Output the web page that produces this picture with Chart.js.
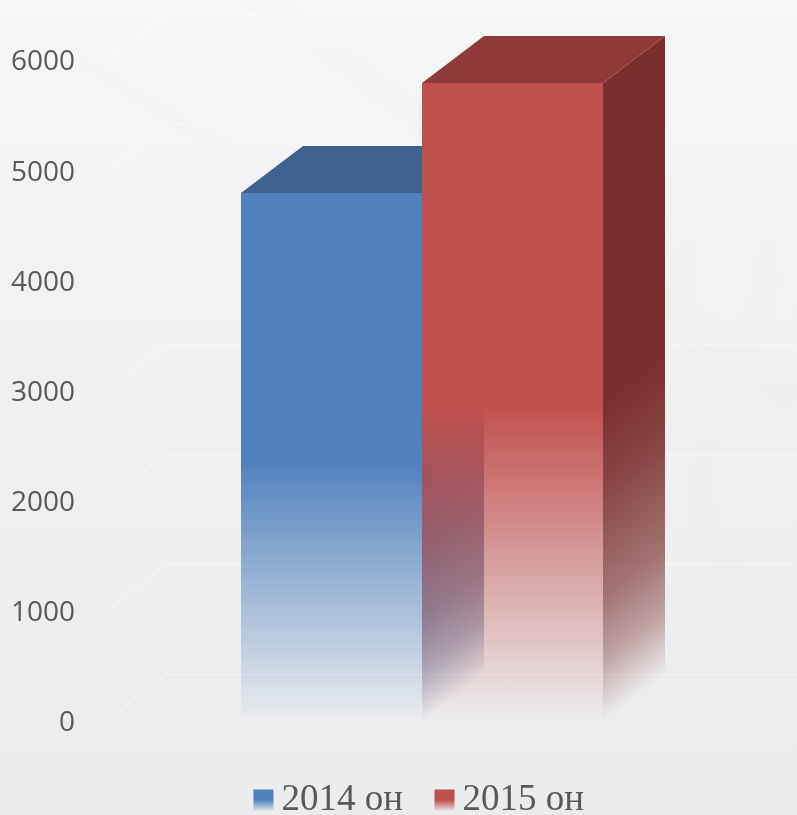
<!DOCTYPE html>
<html>
<head>
<meta charset="utf-8">
<style>
  html, body { margin: 0; padding: 0; background: #f0f1f2; }
  #wrap { width: 797px; height: 815px; background: linear-gradient(#f7f7f8 0%, #f3f3f5 25%, #eff0f1 55%, #ebecee 100%); }
  canvas { display: block; }
</style>
</head>
<body>
<div id="wrap"><canvas id="myChart" width="797" height="815"></canvas></div>
<script src="https://cdn.jsdelivr.net/npm/chart.js@4"></script>
<script>
const categories = [''];
const seriesNames = ['2014 он', '2015 он'];
const values2014 = [4800];
const values2015 = [5800];
const tickMax = 6000;
const tickStep = 1000;

// value where the solid colour starts to fade out, per series
const fadeFrom = [2370, 2860];
const frontColors = ['79,129,189', '192,80,77'];
const sideColors = ['58,95,141', '122,47,45'];
const topColors = ['rgb(62,99,144)', 'rgb(143,58,56)'];
const sideStops = [[0, 1], [0.27, 0.88], [0.6, 0.65], [0.8, 0.4], [1, 0]];

const depthX = 62;
const depthY = 47;
const legendShift = 44;

function frontGradient(chart, i) {
  const y = chart.scales.y;
  const g = chart.ctx.createLinearGradient(0, y.getPixelForValue(fadeFrom[i]), 0, y.getPixelForValue(0));
  g.addColorStop(0, 'rgba(' + frontColors[i] + ',1)');
  g.addColorStop(1, 'rgba(' + frontColors[i] + ',0)');
  return g;
}

// gradient whose bands run parallel to the receding bottom edge of the side face
function sideGradient(chart, i, x) {
  const y = chart.scales.y;
  const y0 = y.getPixelForValue(fadeFrom[i]);
  const y1 = y.getPixelForValue(0);
  const len = Math.hypot(depthX, depthY);
  const nx = depthY / len;
  const ny = depthX / len;
  const d = (y1 - y0) * ny;
  const g = chart.ctx.createLinearGradient(x, y0, x + nx * d, y0 + ny * d);
  sideStops.forEach(s => g.addColorStop(s[0], 'rgba(' + sideColors[i] + ',' + s[1] + ')'));
  return g;
}

function poly(ctx, pts, fill) {
  ctx.beginPath();
  pts.forEach((p, n) => n ? ctx.lineTo(p[0], p[1]) : ctx.moveTo(p[0], p[1]));
  ctx.closePath();
  ctx.fillStyle = fill;
  ctx.fill();
}

const backdrop = {
  id: 'backdrop',
  beforeDraw(chart) {
    const ctx = chart.ctx;
    ctx.save();
    // faint watermark shapes of the slide behind the chart
    ctx.strokeStyle = 'rgba(226,224,224,0.08)';
    ctx.lineWidth = 26;
    ctx.beginPath();
    ctx.ellipse(725, 270, 42, 85, 0.1, 0, Math.PI * 2);
    ctx.stroke();
    ctx.beginPath();
    ctx.ellipse(770, 490, 70, 95, 0, 0, Math.PI * 2);
    ctx.stroke();
    ctx.lineWidth = 30;
    ctx.beginPath();
    ctx.moveTo(250, -10);
    ctx.lineTo(797, 400);
    ctx.stroke();
    ctx.lineWidth = 14;
    ctx.beginPath();
    ctx.moveTo(80, 60);
    ctx.lineTo(250, 165);
    ctx.stroke();
    // 3D floor and wall lines, one per tick
    const y = chart.scales.y;
    const left = chart.chartArea.left;
    ctx.strokeStyle = 'rgba(255,255,255,0.38)';
    ctx.lineWidth = 1.5;
    y.ticks.forEach(t => {
      const py = y.getPixelForValue(t.value);
      ctx.beginPath();
      ctx.moveTo(left, py);
      ctx.lineTo(left + depthX, py - depthY);
      ctx.lineTo(chart.width, py - depthY);
      ctx.stroke();
    });
    ctx.restore();
  }
};

const bars3d = {
  id: 'bars3d',
  afterLayout(chart) {
    // legend is centred under the bars, not under the page
    const lg = chart.legend;
    lg.left += legendShift;
    lg.right += legendShift;
    lg.legendHitBoxes.forEach(h => { h.left += legendShift; });
  },
  beforeDatasetsDraw(chart) {
    const ctx = chart.ctx;
    const base = chart.scales.y.getPixelForValue(0);
    chart.data.datasets.forEach((ds, i) => {
      const bar = chart.getDatasetMeta(i).data[0];
      const l = bar.x - bar.width / 2;
      const r = bar.x + bar.width / 2;
      const t = bar.y;
      poly(ctx, [[r, t], [r + depthX, t - depthY], [r + depthX, base - depthY], [r, base]], sideGradient(chart, i, r));
      poly(ctx, [[l, t], [r, t], [r + depthX, t - depthY], [l + depthX, t - depthY]], topColors[i]);
    });
  },
  afterDraw(chart) {
    // legend swatches sit closer to the text than the library allows
    const ctx = chart.ctx;
    chart.legend.legendHitBoxes.forEach((hit, i) => {
      const x = hit.left + 10.5;
      const y = hit.top + hit.height / 2 - 11;
      const g = ctx.createLinearGradient(0, y, 0, y + 21);
      g.addColorStop(0, 'rgba(' + frontColors[i] + ',1)');
      g.addColorStop(0.5, 'rgba(' + frontColors[i] + ',1)');
      g.addColorStop(1, 'rgba(' + frontColors[i] + ',0.1)');
      ctx.fillStyle = g;
      ctx.fillRect(x, y, 20, 21);
    });
  }
};

new Chart(document.getElementById('myChart'), {
  type: 'bar',
  data: {
    labels: categories,
    datasets: [
      { label: seriesNames[0], data: values2014 },
      { label: seriesNames[1], data: values2015 }
    ].map((d, i) => Object.assign(d, {
      backgroundColor: c => frontGradient(c.chart, i),
      borderWidth: 0,
      categoryPercentage: 0.571,
      barPercentage: 1
    }))
  },
  options: {
    responsive: false,
    animation: false,
    layout: { padding: { top: 61, left: 0, right: 58, bottom: -14 } },
    scales: {
      x: {
        grid: { display: false },
        border: { display: false },
        ticks: { display: false },
        afterFit(s) { s.height = 39.5; }
      },
      y: {
        min: 0,
        max: tickMax,
        grid: { display: false, drawTicks: false },
        border: { display: false },
        ticks: {
          stepSize: tickStep,
          padding: 30,
          color: '#595959',
          labelOffset: 1.5,
          font: { family: '"Open Sans"', size: 28 },
          callback: v => String(v)
        },
        afterFit(s) { s.width = 105; }
      }
    },
    plugins: {
      tooltip: { enabled: false },
      legend: {
        position: 'bottom',
        labels: {
          color: '#595959',
          font: { family: '"Liberation Serif"', size: 37 },
          boxWidth: 20,
          boxHeight: 20,
          padding: 21,
          generateLabels: chart => chart.data.datasets.map((d, i) => ({
            text: d.label,
            fillStyle: 'transparent',
            strokeStyle: 'transparent',
            lineWidth: 0,
            datasetIndex: i,
            fontColor: '#595959'
          }))
        }
      }
    }
  },
  plugins: [backdrop, bars3d]
});
</script>
</body>
</html>
